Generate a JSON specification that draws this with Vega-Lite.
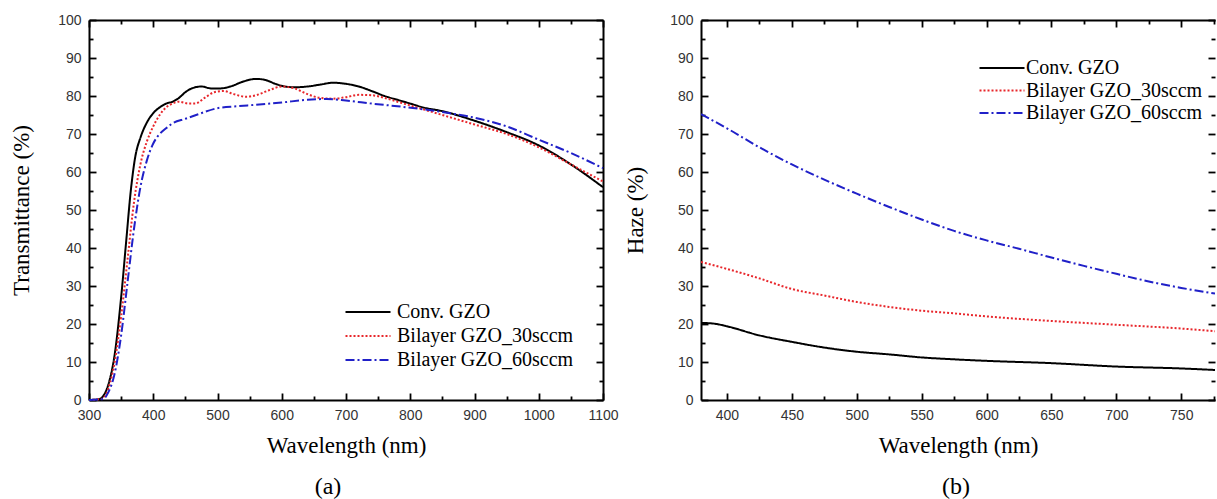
{
  "$schema": "https://vega.github.io/schema/vega-lite/v6.json",
  "autosize": {"type": "pad"},
  "padding": {"left": 10, "top": 13, "right": 0, "bottom": 0},
  "bounds": "flush",
  "spacing": 98,
  "background": "white",
  "datasets": {
    "ta": [
      {"wl": 300, "T": 0, "s": "Conv. GZO"},
      {"wl": 315, "T": 0.2, "s": "Conv. GZO"},
      {"wl": 322, "T": 1, "s": "Conv. GZO"},
      {"wl": 330, "T": 4, "s": "Conv. GZO"},
      {"wl": 340, "T": 12, "s": "Conv. GZO"},
      {"wl": 350, "T": 27, "s": "Conv. GZO"},
      {"wl": 358, "T": 42, "s": "Conv. GZO"},
      {"wl": 365, "T": 55, "s": "Conv. GZO"},
      {"wl": 372, "T": 64, "s": "Conv. GZO"},
      {"wl": 380, "T": 69, "s": "Conv. GZO"},
      {"wl": 390, "T": 73, "s": "Conv. GZO"},
      {"wl": 400, "T": 75.5, "s": "Conv. GZO"},
      {"wl": 410, "T": 77, "s": "Conv. GZO"},
      {"wl": 420, "T": 78, "s": "Conv. GZO"},
      {"wl": 430, "T": 78.5, "s": "Conv. GZO"},
      {"wl": 440, "T": 79.5, "s": "Conv. GZO"},
      {"wl": 450, "T": 81, "s": "Conv. GZO"},
      {"wl": 460, "T": 82, "s": "Conv. GZO"},
      {"wl": 475, "T": 82.5, "s": "Conv. GZO"},
      {"wl": 490, "T": 82, "s": "Conv. GZO"},
      {"wl": 505, "T": 82, "s": "Conv. GZO"},
      {"wl": 520, "T": 82.5, "s": "Conv. GZO"},
      {"wl": 540, "T": 83.8, "s": "Conv. GZO"},
      {"wl": 560, "T": 84.5, "s": "Conv. GZO"},
      {"wl": 575, "T": 84.2, "s": "Conv. GZO"},
      {"wl": 590, "T": 83.2, "s": "Conv. GZO"},
      {"wl": 605, "T": 82.5, "s": "Conv. GZO"},
      {"wl": 620, "T": 82.3, "s": "Conv. GZO"},
      {"wl": 640, "T": 82.5, "s": "Conv. GZO"},
      {"wl": 660, "T": 83, "s": "Conv. GZO"},
      {"wl": 680, "T": 83.5, "s": "Conv. GZO"},
      {"wl": 700, "T": 83.2, "s": "Conv. GZO"},
      {"wl": 720, "T": 82.5, "s": "Conv. GZO"},
      {"wl": 740, "T": 81.3, "s": "Conv. GZO"},
      {"wl": 760, "T": 80, "s": "Conv. GZO"},
      {"wl": 780, "T": 79, "s": "Conv. GZO"},
      {"wl": 800, "T": 78, "s": "Conv. GZO"},
      {"wl": 820, "T": 77, "s": "Conv. GZO"},
      {"wl": 850, "T": 76, "s": "Conv. GZO"},
      {"wl": 900, "T": 73.5, "s": "Conv. GZO"},
      {"wl": 950, "T": 70.5, "s": "Conv. GZO"},
      {"wl": 1000, "T": 67, "s": "Conv. GZO"},
      {"wl": 1050, "T": 62, "s": "Conv. GZO"},
      {"wl": 1100, "T": 56, "s": "Conv. GZO"},
      {"wl": 300, "T": 0, "s": "Bilayer GZO_30sccm"},
      {"wl": 320, "T": 0.3, "s": "Bilayer GZO_30sccm"},
      {"wl": 330, "T": 3, "s": "Bilayer GZO_30sccm"},
      {"wl": 340, "T": 10, "s": "Bilayer GZO_30sccm"},
      {"wl": 350, "T": 22, "s": "Bilayer GZO_30sccm"},
      {"wl": 360, "T": 37, "s": "Bilayer GZO_30sccm"},
      {"wl": 370, "T": 52, "s": "Bilayer GZO_30sccm"},
      {"wl": 380, "T": 62, "s": "Bilayer GZO_30sccm"},
      {"wl": 390, "T": 68, "s": "Bilayer GZO_30sccm"},
      {"wl": 400, "T": 72, "s": "Bilayer GZO_30sccm"},
      {"wl": 410, "T": 75, "s": "Bilayer GZO_30sccm"},
      {"wl": 420, "T": 77, "s": "Bilayer GZO_30sccm"},
      {"wl": 430, "T": 78, "s": "Bilayer GZO_30sccm"},
      {"wl": 440, "T": 78.5, "s": "Bilayer GZO_30sccm"},
      {"wl": 455, "T": 78, "s": "Bilayer GZO_30sccm"},
      {"wl": 465, "T": 78, "s": "Bilayer GZO_30sccm"},
      {"wl": 480, "T": 79.5, "s": "Bilayer GZO_30sccm"},
      {"wl": 495, "T": 81, "s": "Bilayer GZO_30sccm"},
      {"wl": 510, "T": 81.3, "s": "Bilayer GZO_30sccm"},
      {"wl": 525, "T": 80.5, "s": "Bilayer GZO_30sccm"},
      {"wl": 545, "T": 79.8, "s": "Bilayer GZO_30sccm"},
      {"wl": 560, "T": 80.2, "s": "Bilayer GZO_30sccm"},
      {"wl": 580, "T": 81.5, "s": "Bilayer GZO_30sccm"},
      {"wl": 600, "T": 82.5, "s": "Bilayer GZO_30sccm"},
      {"wl": 620, "T": 82, "s": "Bilayer GZO_30sccm"},
      {"wl": 640, "T": 80.5, "s": "Bilayer GZO_30sccm"},
      {"wl": 660, "T": 79.5, "s": "Bilayer GZO_30sccm"},
      {"wl": 680, "T": 79.3, "s": "Bilayer GZO_30sccm"},
      {"wl": 700, "T": 79.7, "s": "Bilayer GZO_30sccm"},
      {"wl": 720, "T": 80.3, "s": "Bilayer GZO_30sccm"},
      {"wl": 740, "T": 80.2, "s": "Bilayer GZO_30sccm"},
      {"wl": 760, "T": 79.5, "s": "Bilayer GZO_30sccm"},
      {"wl": 780, "T": 78.5, "s": "Bilayer GZO_30sccm"},
      {"wl": 800, "T": 77.5, "s": "Bilayer GZO_30sccm"},
      {"wl": 850, "T": 75, "s": "Bilayer GZO_30sccm"},
      {"wl": 900, "T": 72.5, "s": "Bilayer GZO_30sccm"},
      {"wl": 950, "T": 70, "s": "Bilayer GZO_30sccm"},
      {"wl": 1000, "T": 66.5, "s": "Bilayer GZO_30sccm"},
      {"wl": 1050, "T": 62, "s": "Bilayer GZO_30sccm"},
      {"wl": 1100, "T": 57.5, "s": "Bilayer GZO_30sccm"},
      {"wl": 300, "T": 0, "s": "Bilayer GZO_60sccm"},
      {"wl": 322, "T": 0.3, "s": "Bilayer GZO_60sccm"},
      {"wl": 330, "T": 2, "s": "Bilayer GZO_60sccm"},
      {"wl": 340, "T": 7, "s": "Bilayer GZO_60sccm"},
      {"wl": 350, "T": 17, "s": "Bilayer GZO_60sccm"},
      {"wl": 360, "T": 31, "s": "Bilayer GZO_60sccm"},
      {"wl": 370, "T": 45, "s": "Bilayer GZO_60sccm"},
      {"wl": 380, "T": 56, "s": "Bilayer GZO_60sccm"},
      {"wl": 390, "T": 63, "s": "Bilayer GZO_60sccm"},
      {"wl": 400, "T": 67.5, "s": "Bilayer GZO_60sccm"},
      {"wl": 410, "T": 70, "s": "Bilayer GZO_60sccm"},
      {"wl": 420, "T": 71.5, "s": "Bilayer GZO_60sccm"},
      {"wl": 430, "T": 72.8, "s": "Bilayer GZO_60sccm"},
      {"wl": 450, "T": 74, "s": "Bilayer GZO_60sccm"},
      {"wl": 470, "T": 75.2, "s": "Bilayer GZO_60sccm"},
      {"wl": 500, "T": 76.8, "s": "Bilayer GZO_60sccm"},
      {"wl": 530, "T": 77.3, "s": "Bilayer GZO_60sccm"},
      {"wl": 560, "T": 77.7, "s": "Bilayer GZO_60sccm"},
      {"wl": 600, "T": 78.3, "s": "Bilayer GZO_60sccm"},
      {"wl": 640, "T": 79, "s": "Bilayer GZO_60sccm"},
      {"wl": 670, "T": 79.2, "s": "Bilayer GZO_60sccm"},
      {"wl": 700, "T": 78.8, "s": "Bilayer GZO_60sccm"},
      {"wl": 740, "T": 78, "s": "Bilayer GZO_60sccm"},
      {"wl": 780, "T": 77.3, "s": "Bilayer GZO_60sccm"},
      {"wl": 820, "T": 76.5, "s": "Bilayer GZO_60sccm"},
      {"wl": 860, "T": 75.5, "s": "Bilayer GZO_60sccm"},
      {"wl": 900, "T": 74.3, "s": "Bilayer GZO_60sccm"},
      {"wl": 950, "T": 72, "s": "Bilayer GZO_60sccm"},
      {"wl": 1000, "T": 68.5, "s": "Bilayer GZO_60sccm"},
      {"wl": 1050, "T": 65, "s": "Bilayer GZO_60sccm"},
      {"wl": 1100, "T": 61, "s": "Bilayer GZO_60sccm"}
    ],
    "hb": [
      {"wl": 380, "H": 20.3, "s": "Conv. GZO"},
      {"wl": 390, "H": 20.1, "s": "Conv. GZO"},
      {"wl": 400, "H": 19.4, "s": "Conv. GZO"},
      {"wl": 425, "H": 17, "s": "Conv. GZO"},
      {"wl": 450, "H": 15.3, "s": "Conv. GZO"},
      {"wl": 475, "H": 13.8, "s": "Conv. GZO"},
      {"wl": 500, "H": 12.7, "s": "Conv. GZO"},
      {"wl": 525, "H": 12, "s": "Conv. GZO"},
      {"wl": 550, "H": 11.2, "s": "Conv. GZO"},
      {"wl": 575, "H": 10.7, "s": "Conv. GZO"},
      {"wl": 600, "H": 10.3, "s": "Conv. GZO"},
      {"wl": 650, "H": 9.7, "s": "Conv. GZO"},
      {"wl": 700, "H": 8.8, "s": "Conv. GZO"},
      {"wl": 750, "H": 8.3, "s": "Conv. GZO"},
      {"wl": 776, "H": 7.9, "s": "Conv. GZO"},
      {"wl": 380, "H": 36.3, "s": "Bilayer GZO_30sccm"},
      {"wl": 400, "H": 34.5, "s": "Bilayer GZO_30sccm"},
      {"wl": 425, "H": 32, "s": "Bilayer GZO_30sccm"},
      {"wl": 450, "H": 29.2, "s": "Bilayer GZO_30sccm"},
      {"wl": 475, "H": 27.5, "s": "Bilayer GZO_30sccm"},
      {"wl": 500, "H": 25.8, "s": "Bilayer GZO_30sccm"},
      {"wl": 525, "H": 24.5, "s": "Bilayer GZO_30sccm"},
      {"wl": 550, "H": 23.5, "s": "Bilayer GZO_30sccm"},
      {"wl": 575, "H": 22.8, "s": "Bilayer GZO_30sccm"},
      {"wl": 600, "H": 22, "s": "Bilayer GZO_30sccm"},
      {"wl": 650, "H": 20.8, "s": "Bilayer GZO_30sccm"},
      {"wl": 700, "H": 19.8, "s": "Bilayer GZO_30sccm"},
      {"wl": 750, "H": 18.8, "s": "Bilayer GZO_30sccm"},
      {"wl": 776, "H": 18.1, "s": "Bilayer GZO_30sccm"},
      {"wl": 380, "H": 75.2, "s": "Bilayer GZO_60sccm"},
      {"wl": 400, "H": 71.5, "s": "Bilayer GZO_60sccm"},
      {"wl": 425, "H": 66.5, "s": "Bilayer GZO_60sccm"},
      {"wl": 450, "H": 62, "s": "Bilayer GZO_60sccm"},
      {"wl": 475, "H": 58, "s": "Bilayer GZO_60sccm"},
      {"wl": 500, "H": 54.3, "s": "Bilayer GZO_60sccm"},
      {"wl": 525, "H": 50.8, "s": "Bilayer GZO_60sccm"},
      {"wl": 550, "H": 47.5, "s": "Bilayer GZO_60sccm"},
      {"wl": 575, "H": 44.5, "s": "Bilayer GZO_60sccm"},
      {"wl": 600, "H": 42, "s": "Bilayer GZO_60sccm"},
      {"wl": 625, "H": 39.8, "s": "Bilayer GZO_60sccm"},
      {"wl": 650, "H": 37.5, "s": "Bilayer GZO_60sccm"},
      {"wl": 675, "H": 35.3, "s": "Bilayer GZO_60sccm"},
      {"wl": 700, "H": 33.2, "s": "Bilayer GZO_60sccm"},
      {"wl": 725, "H": 31.2, "s": "Bilayer GZO_60sccm"},
      {"wl": 750, "H": 29.5, "s": "Bilayer GZO_60sccm"},
      {"wl": 776, "H": 28, "s": "Bilayer GZO_60sccm"}
    ]
  },
  "hconcat": [
    {
      "width": 514,
      "height": 380,
      "data": {"name": "ta"},
      "title": {"text": "(a)", "orient": "bottom", "anchor": "middle", "dx": -18, "offset": 18, "font": "Liberation Serif", "fontSize": 24, "fontWeight": "normal", "color": "black"},
      "layer": [
        {
          "mark": {"type": "line", "strokeWidth": 2, "interpolate": "monotone"},
          "encoding": {
            "x": {"field": "wl", "type": "quantitative", "scale": {"domain": [300, 1100], "nice": false},
              "axis": {"orient": "bottom", "values": [300, 400, 500, 600, 700, 800, 900, 1000, 1100], "format": "d", "ticks": false, "domain": true, "title": "Wavelength (nm)"}},
            "y": {"field": "T", "type": "quantitative", "scale": {"domain": [0, 100], "nice": false},
              "axis": {"orient": "left", "values": [0, 10, 20, 30, 40, 50, 60, 70, 80, 90, 100], "ticks": false, "domain": true, "title": "Transmittance (%)", "titlePadding": 24}},
            "color": {"field": "s", "type": "nominal", "scale": {"domain": ["Conv. GZO", "Bilayer GZO_30sccm", "Bilayer GZO_60sccm"], "range": ["#000000", "#e8262b", "#2020c8"]},
              "legend": {"orient": "none", "legendX": 269, "legendY": 282, "title": null, "labelOffset": 19}},
            "strokeDash": {"field": "s", "type": "nominal", "scale": {"domain": ["Conv. GZO", "Bilayer GZO_30sccm", "Bilayer GZO_60sccm"], "range": [[1, 0], [2, 2], [9, 3, 2, 3]]},
              "legend": {"orient": "none", "legendX": 269, "legendY": 282, "title": null, "labelOffset": 19}}
          }
        },
        {
          "mark": {"type": "line", "opacity": 0},
          "encoding": {
            "x": {"field": "wl", "type": "quantitative", "axis": {"orient": "bottom", "labels": false, "domain": false, "grid": false, "title": null, "values": [300, 400, 500, 600, 700, 800, 900, 1000, 1100], "ticks": true, "tickSize": 7, "offset": -7}},
            "y": {"field": "T", "type": "quantitative", "axis": {"orient": "left", "labels": false, "domain": false, "grid": false, "title": null, "values": [0, 10, 20, 30, 40, 50, 60, 70, 80, 90, 100], "ticks": true, "tickSize": 7, "offset": -7}},
            "detail": {"field": "s"}
          }
        },
        {
          "mark": {"type": "line", "opacity": 0},
          "encoding": {
            "x": {"field": "wl", "type": "quantitative", "axis": {"orient": "top", "labels": false, "domain": false, "grid": false, "title": null, "values": [300, 400, 500, 600, 700, 800, 900, 1000, 1100], "ticks": true, "tickSize": 7, "offset": -7}},
            "y": {"field": "T", "type": "quantitative", "axis": {"orient": "right", "labels": false, "domain": false, "grid": false, "title": null, "values": [0, 10, 20, 30, 40, 50, 60, 70, 80, 90, 100], "ticks": true, "tickSize": 7, "offset": -7}},
            "detail": {"field": "s"}
          }
        },
        {
          "mark": {"type": "line", "opacity": 0},
          "encoding": {
            "x": {"field": "wl", "type": "quantitative", "axis": {"orient": "bottom", "labels": false, "domain": false, "grid": false, "title": null, "values": [350, 450, 550, 650, 750, 850, 950, 1050], "ticks": true, "tickSize": 4, "offset": -4}},
            "y": {"field": "T", "type": "quantitative", "axis": {"orient": "left", "labels": false, "domain": false, "grid": false, "title": null, "values": [5, 15, 25, 35, 45, 55, 65, 75, 85, 95], "ticks": true, "tickSize": 4, "offset": -4}},
            "detail": {"field": "s"}
          }
        },
        {
          "mark": {"type": "line", "opacity": 0},
          "encoding": {
            "x": {"field": "wl", "type": "quantitative", "axis": {"orient": "top", "labels": false, "domain": false, "grid": false, "title": null, "values": [350, 450, 550, 650, 750, 850, 950, 1050], "ticks": true, "tickSize": 4, "offset": -4}},
            "y": {"field": "T", "type": "quantitative", "axis": {"orient": "right", "labels": false, "domain": false, "grid": false, "title": null, "values": [5, 15, 25, 35, 45, 55, 65, 75, 85, 95], "ticks": true, "tickSize": 4, "offset": -4}},
            "detail": {"field": "s"}
          }
        },
        {
          "mark": {"type": "line", "opacity": 0},
          "encoding": {
            "x": {"field": "wl", "type": "quantitative", "axis": {"orient": "top", "labels": false, "ticks": false, "grid": false, "domain": true, "title": null}},
            "y": {"field": "T", "type": "quantitative", "axis": {"orient": "right", "labels": false, "ticks": false, "grid": false, "domain": true, "title": null}},
            "detail": {"field": "s"}
          }
        }
      ],
      "resolve": {"axis": {"x": "independent", "y": "independent"}}
    },
    {
      "width": 514,
      "height": 380,
      "data": {"name": "hb"},
      "title": {"text": "(b)", "orient": "bottom", "anchor": "middle", "dx": -2, "offset": 18, "font": "Liberation Serif", "fontSize": 24, "fontWeight": "normal", "color": "black"},
      "layer": [
        {
          "mark": {"type": "line", "strokeWidth": 2, "interpolate": "monotone", "clip": true},
          "encoding": {
            "x": {"field": "wl", "type": "quantitative", "scale": {"domain": [380, 776], "nice": false},
              "axis": {"orient": "bottom", "values": [400, 450, 500, 550, 600, 650, 700, 750], "format": "d", "ticks": false, "domain": true, "title": "Wavelength (nm)"}},
            "y": {"field": "H", "type": "quantitative", "scale": {"domain": [0, 100], "nice": false},
              "axis": {"orient": "left", "values": [0, 10, 20, 30, 40, 50, 60, 70, 80, 90, 100], "ticks": false, "domain": true, "title": "Haze (%)", "titlePadding": 22}},
            "color": {"field": "s", "type": "nominal", "scale": {"domain": ["Conv. GZO", "Bilayer GZO_30sccm", "Bilayer GZO_60sccm"], "range": ["#000000", "#e8262b", "#2020c8"]},
              "legend": {"orient": "none", "legendX": 291, "legendY": 38, "title": null, "labelOffset": 14, "rowPadding": 2.5}},
            "strokeDash": {"field": "s", "type": "nominal", "scale": {"domain": ["Conv. GZO", "Bilayer GZO_30sccm", "Bilayer GZO_60sccm"], "range": [[1, 0], [2, 2], [9, 3, 2, 3]]},
              "legend": {"orient": "none", "legendX": 291, "legendY": 38, "title": null, "labelOffset": 14, "rowPadding": 2.5}}
          }
        },
        {
          "mark": {"type": "line", "opacity": 0},
          "encoding": {
            "x": {"field": "wl", "type": "quantitative", "axis": {"orient": "bottom", "labels": false, "domain": false, "grid": false, "title": null, "values": [400, 450, 500, 550, 600, 650, 700, 750], "ticks": true, "tickSize": 7, "offset": -7}},
            "y": {"field": "H", "type": "quantitative", "axis": {"orient": "left", "labels": false, "domain": false, "grid": false, "title": null, "values": [0, 10, 20, 30, 40, 50, 60, 70, 80, 90, 100], "ticks": true, "tickSize": 7, "offset": -7}},
            "detail": {"field": "s"}
          }
        },
        {
          "mark": {"type": "line", "opacity": 0},
          "encoding": {
            "x": {"field": "wl", "type": "quantitative", "axis": {"orient": "top", "labels": false, "domain": false, "grid": false, "title": null, "values": [400, 450, 500, 550, 600, 650, 700, 750], "ticks": true, "tickSize": 7, "offset": -7}},
            "y": {"field": "H", "type": "quantitative", "axis": {"orient": "right", "labels": false, "domain": false, "grid": false, "title": null, "values": [0, 10, 20, 30, 40, 50, 60, 70, 80, 90, 100], "ticks": true, "tickSize": 7, "offset": -7}},
            "detail": {"field": "s"}
          }
        },
        {
          "mark": {"type": "line", "opacity": 0},
          "encoding": {
            "x": {"field": "wl", "type": "quantitative", "axis": {"orient": "bottom", "labels": false, "domain": false, "grid": false, "title": null, "values": [425, 475, 525, 575, 625, 675, 725, 775], "ticks": true, "tickSize": 4, "offset": -4}},
            "y": {"field": "H", "type": "quantitative", "axis": {"orient": "left", "labels": false, "domain": false, "grid": false, "title": null, "values": [5, 15, 25, 35, 45, 55, 65, 75, 85, 95], "ticks": true, "tickSize": 4, "offset": -4}},
            "detail": {"field": "s"}
          }
        },
        {
          "mark": {"type": "line", "opacity": 0},
          "encoding": {
            "x": {"field": "wl", "type": "quantitative", "axis": {"orient": "top", "labels": false, "domain": false, "grid": false, "title": null, "values": [425, 475, 525, 575, 625, 675, 725, 775], "ticks": true, "tickSize": 4, "offset": -4}},
            "y": {"field": "H", "type": "quantitative", "axis": {"orient": "right", "labels": false, "domain": false, "grid": false, "title": null, "values": [5, 15, 25, 35, 45, 55, 65, 75, 85, 95], "ticks": true, "tickSize": 4, "offset": -4}},
            "detail": {"field": "s"}
          }
        },
        {
          "mark": {"type": "line", "opacity": 0},
          "encoding": {
            "x": {"field": "wl", "type": "quantitative", "axis": {"orient": "top", "labels": false, "ticks": false, "grid": false, "domain": true, "title": null}},
            "y": {"field": "H", "type": "quantitative", "axis": null},
            "detail": {"field": "s"}
          }
        }
      ],
      "resolve": {"axis": {"x": "independent", "y": "independent"}}
    }
  ],
  "resolve": {
    "scale": {"x": "independent", "y": "independent", "color": "independent", "strokeDash": "independent"},
    "legend": {"color": "independent", "strokeDash": "independent"}
  },
  "config": {
    "view": {"stroke": null},
    "axis": {
      "grid": false,
      "domainColor": "#000000",
      "domainWidth": 2,
      "tickColor": "#000000",
      "tickWidth": 1.8,
      "tickOpacity": 1,
      "labelFont": "Liberation Sans",
      "labelFontSize": 14,
      "labelColor": "#333333",
      "labelPadding": 8,
      "labelOverlap": false,
      "labelFlush": false,
      "titleFont": "Liberation Serif",
      "titleFontSize": 23,
      "titleFontWeight": "normal",
      "titleColor": "#000000",
      "titlePadding": 12
    },
    "legend": {
      "symbolType": "M-2.5,0H2.5",
      "symbolSize": 324,
      "symbolStrokeWidth": 2,
      "symbolFillColor": "transparent",
      "labelFont": "Liberation Serif",
      "labelFontSize": 20,
      "labelColor": "#000000",
      "rowPadding": 4,
      "labelLimit": 400
    }
  }
}
